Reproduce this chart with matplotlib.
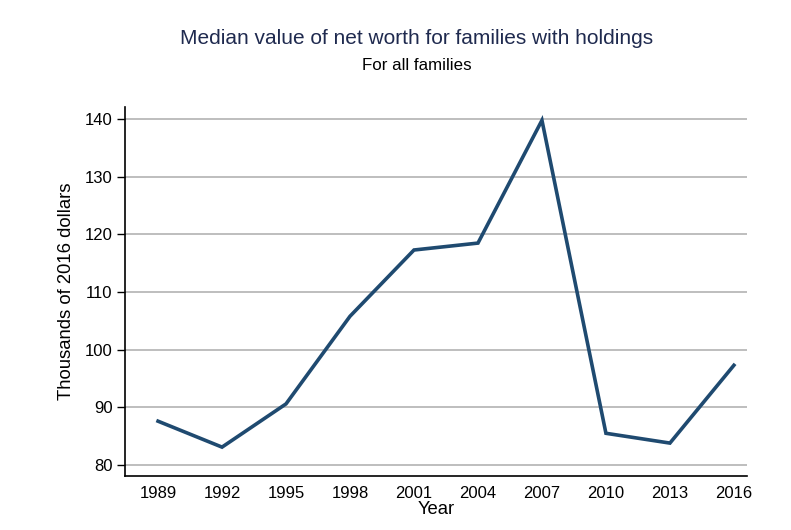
import matplotlib
matplotlib.use('Agg')
import matplotlib.pyplot as plt

plt.rcParams['font.family'] = ['Liberation Sans', 'DejaVu Sans']

# survey years and median net worth (thousands of 2016 dollars)
years = [1989, 1992, 1995, 1998, 2001, 2004, 2007, 2010, 2013, 2016]
net_worth = [87.6, 83.1, 90.6, 105.8, 117.3, 118.5, 139.8, 85.5, 83.8, 97.3]
yticks = [80, 90, 100, 110, 120, 130, 140]

fig = plt.figure(figsize=(7.91, 5.30), dpi=100)
ax = fig.add_axes([0.158, 0.102, 0.786, 0.696])

for y in yticks:
    ax.axhline(y, color='#bebebe', lw=1.4, zorder=1)
ax.plot(years, net_worth, color='#1f4a70', lw=2.6, zorder=3, solid_joinstyle='miter')

ax.set_xlim(1987.45, 2016.6)
ax.set_ylim(78.1, 142.1)
ax.set_xticks(years)
ax.set_yticks(yticks)
ax.tick_params(axis='x', length=0, labelsize=12, pad=7)
ax.tick_params(axis='y', length=6, width=1, labelsize=12, pad=3)
for s in ['top', 'right']:
    ax.spines[s].set_visible(False)
for s in ['left', 'bottom']:
    ax.spines[s].set_linewidth(1.2)

ax.set_xlabel('Year', fontsize=13.3, labelpad=0)
ax.set_ylabel('Thousands of 2016 dollars', fontsize=13.3, labelpad=7)

fig.text(0.527, 0.928, 'Median value of net worth for families with holdings',
         ha='center', va='center', fontsize=15, color='#1f2a4f')
fig.text(0.527, 0.876, 'For all families', ha='center', va='center', fontsize=12.2)

plt.savefig('out.png', dpi=100)
